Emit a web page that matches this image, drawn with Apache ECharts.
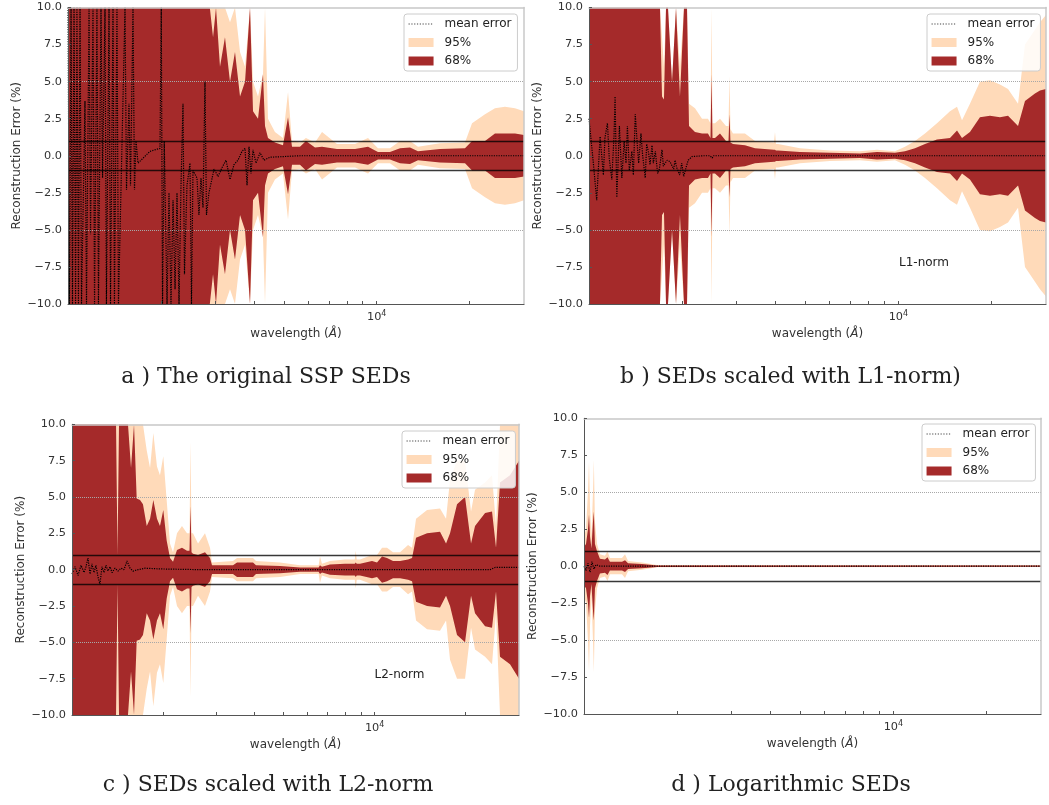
<!DOCTYPE html>
<html>
<head>
<meta charset="utf-8">
<script src="https://cdn.jsdelivr.net/npm/echarts@6/dist/echarts.min.js"></script>
<style>html,body{margin:0;padding:0;background:#fff}#c{width:1049px;height:805px}</style>
</head>
<body>
<div id="c"></div>
<script>
// ---------- data (wavelength in Angstrom, half-widths of the bands in %) ----------
const wlA = [1000,2880,2950,3016,3107,3225,3348,3475,3608,3745,3887,3975,4126,4282,4347,4445,4682,4970,5161,5317,5642,5900,6311,6650,7436,8506,9372,10095,11040,11898,12817,13607,16032,19320,20360,22430,24160,26030,28050,30000];
const a95 = [10,10,10,10,10,10,9,10,7,6,10,5,4,5.5,10,2.5,1.6,1.2,4.3,1.0,0.9,1.2,0.9,1.6,0.8,0.8,1.2,0.5,0.5,1.0,1.0,0.6,0.85,0.9,2.2,2.8,3.2,3.3,3.2,3.0];
const a68 = [10,10,8,10,6,8,5,7,4,5,10,3,2.5,5.5,2,1.2,0.9,0.7,2.6,0.6,0.6,1.0,0.55,0.6,0.45,0.45,0.6,0.25,0.25,0.5,0.55,0.3,0.45,0.5,1.0,1.0,1.5,1.5,1.5,1.4];
const mwlA = [1000,1011,1023,1034,1046,1058,1069,1081,1094,1106,1135,1148,1170,1183,1205,1219,1241,1255,1279,1294,1318,1332,1358,1373,1399,1414,1441,1457,1530,1547,1576,1594,1624,1642,1661,1686,1843,1986,2005,2024,2050,2093,2124,2156,2189,2222,2255,2289,2323,2358,2384,2429,2484,2512,2540,2617,2656,2696,2737,2778,2809,2862,2972,3063,3155,3250,3348,3449,3553,3661,3745,3801,3858,3915,3974,4064,4188,4314,4511,5642,30000];
const meanA = [10,-10,10,-10,10,-10,10,-10,10,-10,3.7,-10,10,-5.3,10,-10,10,-10,10,-1.5,10,-10,10,-10,10,-10,10,-10,10,-2.3,3.5,-2,10,-2.3,1,-0.5,0.3,0.5,10,-10,1,-10,-2.5,-10,-3,-9,-2.5,-10,-2,3.5,-8,-2,-0.5,-10,-1,-1.5,-4,-1.5,-3.5,5,-4,-2.5,-0.9,-1.4,-0.8,-0.3,-1.6,-0.6,-0.3,0.3,0.5,-2.0,0.6,-1.2,0.4,-0.5,0.2,-0.3,-0.1,0,0];

const wlB = [1000,1696,1722,1747,1774,1800,1855,1911,1968,2028,2074,2105,2201,2319,2424,2470,2489,2507,2554,2651,2772,2824,2845,2866,2920,3193,3440,3962,3992,4021,4082,4808,6010,7515,8525,9750,10503,11316,12190,13328,14682,15470,16057,17035,18350,19775,21300,22612,24362,25657,27636,28686,30000];
const b95 = [10,10,8,6,10,10,5,10,6,10,10,3.5,3.2,2.5,2.5,2.2,10,2.2,2.2,2.5,2.0,2.0,5.4,1.8,1.5,1.5,1.0,0.9,1.6,0.8,0.8,0.5,0.35,0.3,0.4,0.3,0.6,1.0,1.5,2.2,3.0,3.3,2.4,3.5,5.0,5.1,4.8,4.5,3.5,7.5,8.5,9.0,9.5];
const b68 = [10,10,4,3.8,10,10,5,10,4,10,10,2.0,1.6,1.5,1.5,1.2,5.5,1.2,1.2,1.5,1.0,1.0,2.8,0.9,0.8,0.7,0.5,0.4,0.4,0.35,0.35,0.25,0.2,0.15,0.25,0.2,0.3,0.5,0.8,1.1,1.2,1.7,1.2,1.6,2.6,2.7,2.6,2.7,2.0,3.7,4.2,4.4,4.5];
const mwlB = [1000,1033,1059,1086,1113,1126,1147,1163,1185,1205,1214,1230,1254,1277,1299,1317,1331,1350,1376,1391,1411,1435,1447,1472,1491,1520,1536,1558,1575,1598,1614,1638,1667,1688,1722,1739,1788,1827,1878,1897,1921,1964,1994,2024,2059,2092,2155,2350,2461,2502,2522,30000];
const meanB = [2.5,-0.5,-3.0,1.3,-1.3,1.2,2.2,-0.2,-1.6,1.4,4.0,-2.8,2.0,-1.5,1.0,-0.5,2.0,-1.0,0.3,-1.3,2.8,0.5,-0.5,1.5,0,-1.5,0.8,0.2,-0.6,0.7,-0.5,0.3,-1.2,-0.9,0.4,-0.7,-0.3,-0.4,-0.9,-0.3,-0.8,-1.3,-0.5,-1.4,-0.8,-0.3,-0.05,0,0,-0.15,0,0];

const wlC = [1000,1398,1414,1430,1531,1567,1603,1636,1678,1716,1766,1811,1857,1909,1953,2003,2055,2108,2157,2223,2309,2399,2445,2464,2483,2511,2609,2751,2858,2902,3404,3510,3964,4055,4869,5669,6531,6599,6700,7121,7984,8597,8661,8729,8949,9804,10184,10580,10990,11502,12133,12897,13294,13705,14904,16448,17219,17751,18721,19898,20827,21469,23175,24434,25186,25964,28019,30000];
const c95 = [10,10,10,10,10,10,10,10,10,10,8.2,7,9.4,7.1,6.5,7.8,4.8,1.8,1.2,2.5,3.0,2.5,2.5,8.8,2.5,2.5,1.8,2.5,1.5,0.5,0.6,0.8,0.8,0.6,0.5,0.3,0.3,0.9,0.4,0.6,0.7,0.7,1.3,0.7,0.7,1.0,1.0,1.5,1.5,1.2,1.2,1.7,1.5,3.5,4.1,4.2,3.5,6.2,7.5,7.5,4.0,5.5,6.0,6.5,3.0,10,10,10];
const c68 = [10,10,1,10,10,7,10,4.9,4.8,4.5,3.0,3.5,4.8,3.5,3,4.1,2.0,0.8,0.55,1.35,1.5,1.3,1.3,4.4,1.2,1.1,1.0,1.2,0.8,0.3,0.3,0.5,0.5,0.3,0.25,0.15,0.15,0.3,0.2,0.35,0.4,0.4,0.5,0.4,0.4,0.6,0.5,0.9,0.8,0.6,0.6,0.7,0.8,2.2,2.5,2.6,1.8,2.5,4.5,5.0,1.8,3.0,3.9,4.0,1.5,6.0,6.5,7.5];
const mwlC = [1000,1023,1047,1071,1096,1112,1129,1147,1164,1182,1200,1219,1237,1256,1276,1295,1315,1336,1356,1387,1419,1452,1485,1520,1555,1591,1653,1743,1953,2649,24065,24998,30000];
const meanC = [-0.3,0.2,-0.4,0.3,-0.2,0.2,0.8,-0.3,0.4,-0.2,0.3,-0.5,-1.0,0.2,-0.2,0.3,-0.1,0.2,-0.2,0.1,-0.1,0.1,0.0,0.6,0.1,-0.1,0.0,0.1,0.05,0,0,0.15,0.15];

const wlD = [1000,1015,1030,1038,1046,1057,1069,1076,1085,1102,1126,1169,1191,1213,1327,1357,1388,1540,1722,30000];
const d95 = [2.0,2.5,5,7.1,4,2,5,7.2,3,1.5,0.8,0.7,1.0,0.55,0.55,0.8,0.35,0.25,0.08,0.06];
const d68 = [1.3,1.5,2.5,3.5,2,1.2,3,3.7,1.5,1.0,0.5,0.45,0.6,0.3,0.3,0.4,0.2,0.15,0.05,0.04];
const mwlD = [1000,1015,1030,1046,1061,1077,1093,1126,30000];
const meanD = [0,-0.3,0.2,-0.4,0.3,-0.2,0.1,0,0];

const refSolid = [1, -1];
const refDotted = [5, -5];
const xTickValues = [2000,3000,4000,5000,6000,7000,8000,9000,10000,20000];
const xLabelValues = [10000];
const captions = ['a ) The original SSP SEDs', 'b ) SEDs scaled with L1-norm)', 'c ) SEDs scaled with L2-norm', 'd ) Logarithmic SEDs'];
const notes = ['', 'L1-norm', 'L2-norm', ''];
const legendNames = ['mean error', '95%', '68%'];

// ---------- layout & style ----------
const FONT = 'DejaVu Sans';
const C95 = '#ffdab9', C68 = '#a52a2a';
const grids = [
  {left: 68, top: 7.5, width: 456, height: 296.5},
  {left: 589, top: 7.5, width: 457, height: 296.5},
  {left: 72, top: 424.3, width: 447, height: 290.7},
  {left: 584, top: 418.3, width: 457, height: 295.7}
];
const legendPos = [[404, 14], [927, 14], [402, 431], [922, 424]];
const captionPos = [[266, 377], [790.5, 377], [268, 785], [791, 785]];
const notePos = [null, [924, 263], [399.5, 675], null];
const panels = [
  {wl: wlA, h95: a95, h68: a68, mwl: mwlA, mean: meanA},
  {wl: wlB, h95: b95, h68: b68, mwl: mwlB, mean: meanB},
  {wl: wlC, h95: c95, h68: c68, mwl: mwlC, mean: meanC},
  {wl: wlD, h95: d95, h68: d68, mwl: mwlD, mean: meanD}
];

function bandSeries(name, ax, wl, hw, color, z) {
  return {
    type: 'custom', name: name, xAxisIndex: ax, yAxisIndex: ax, z: z, clip: true, silent: true,
    itemStyle: {color: color},
    encode: {x: 0, y: 1},
    data: wl.map((w, i) => [w, hw[i]]),
    renderItem: function (params, api) {
      if (params.dataIndex !== 0) return null;
      const up = [], dn = [];
      for (let i = 0; i < wl.length; i++) {
        up.push(api.coord([wl[i], hw[i]]));
        dn.push(api.coord([wl[i], -hw[i]]));
      }
      return {type: 'polygon', shape: {points: up.concat(dn.reverse())}, style: {fill: color}};
    }
  };
}

const xAxes = [], yAxes = [], series = [], legends = [], graphics = [];
panels.forEach((p, i) => {
  const ax = 2 * i;
  xAxes.push({
    type: 'log', logBase: 10, gridIndex: i, min: 1000, max: 30000, z: 10, position: 'bottom',
    axisLine: {show: true, onZero: false, lineStyle: {color: '#555', width: 1}},
    axisTick: {show: true, inside: true, length: 3, customValues: xTickValues, lineStyle: {color: '#555'}},
    minorTick: {show: false},
    splitLine: {show: false},
    axisLabel: {
      customValues: xLabelValues, margin: 6, color: '#333',
      formatter: v => (Math.round(v) === 10000 ? '{b|10}{s|4}' : ''),
      rich: {b: {fontSize: 11.3, fontFamily: FONT, color: '#333'},
             s: {fontSize: 8, fontFamily: FONT, color: '#333', padding: [0, 0, 6, 0]}}
    },
    name: 'wavelength ({i|Å})', nameLocation: 'middle', nameGap: 24,
    nameTextStyle: {fontSize: 12, fontFamily: FONT, color: '#333',
      rich: {i: {fontSize: 12, fontFamily: FONT, fontStyle: 'italic', color: '#333'}}}
  });
  xAxes.push({
    type: 'log', logBase: 10, gridIndex: i, min: 1000, max: 30000, z: 10, position: 'top',
    axisLine: {show: true, onZero: false, lineStyle: {color: '#c8c8c8', width: 1.5}},
    axisTick: {show: false}, axisLabel: {show: false}, splitLine: {show: false}
  });
  yAxes.push({
    type: 'value', gridIndex: i, min: -10, max: 10, interval: 2.5, z: 10, position: 'left',
    axisLine: {show: true, onZero: false, lineStyle: {color: '#555', width: 1}},
    axisTick: {show: true, inside: true, length: 3, lineStyle: {color: '#555'}},
    splitLine: {show: false},
    axisLabel: {margin: 6, color: '#333', fontSize: 11.3, fontFamily: FONT,
      formatter: v => (v < 0 ? '\u2212' : '') + Math.abs(v).toFixed(1)},
    name: 'Reconstruction Error (%)', nameLocation: 'middle', nameGap: 45,
    nameTextStyle: {fontSize: 12, fontFamily: FONT, color: '#333'}
  });
  yAxes.push({
    type: 'value', gridIndex: i, min: -10, max: 10, interval: 2.5, z: 10, position: 'right',
    axisLine: {show: true, onZero: false, lineStyle: {color: '#c8c8c8', width: 1.5}},
    axisTick: {show: false}, axisLabel: {show: false}, splitLine: {show: false}
  });

  series.push({
    type: 'line', name: 'ref5-' + i, xAxisIndex: ax, yAxisIndex: ax, z: 1, silent: true,
    data: [[1000, 0]], symbol: 'none', lineStyle: {opacity: 0},
    markLine: {silent: true, symbol: ['none', 'none'], label: {show: false}, animation: false,
      lineStyle: {type: 'dotted', color: '#a8a8a8', width: 1},
      data: refDotted.map(v => ({yAxis: v}))}
  });
  series.push(bandSeries('95%', ax, p.wl, p.h95, C95, 2));
  series.push(bandSeries('68%', ax, p.wl, p.h68, C68, 3));
  series.push({
    type: 'line', name: 'ref1-' + i, xAxisIndex: ax, yAxisIndex: ax, z: 4, silent: true,
    data: [[1000, 0]], symbol: 'none', lineStyle: {opacity: 0},
    markLine: {silent: true, symbol: ['none', 'none'], label: {show: false}, animation: false,
      lineStyle: {type: 'solid', color: 'rgba(0,0,0,0.78)', width: 1.4},
      data: refSolid.map(v => ({yAxis: v}))}
  });
  series.push({
    type: 'line', name: 'mean error', xAxisIndex: ax, yAxisIndex: ax, z: 5, silent: true,
    symbol: 'none', showSymbol: false, clip: true,
    lineStyle: {type: 'dotted', color: '#000', width: 1.2},
    itemStyle: {color: '#000'},
    data: p.mwl.map((w, k) => [w, p.mean[k]])
  });

  legends.push({
    left: legendPos[i][0], top: legendPos[i][1], orient: 'vertical', selectedMode: false,
    data: [
      {name: legendNames[0], itemStyle: {opacity: 0}, lineStyle: {color: '#444', type: [1.2, 1.6], width: 1.1}},
      {name: legendNames[1], icon: 'rect'},
      {name: legendNames[2], icon: 'rect'}
    ],
    itemWidth: 25, itemHeight: 9, itemGap: 4.5, padding: [3, 6, 3, 4],
    backgroundColor: 'rgba(255,255,255,0.85)', borderColor: '#cccccc', borderWidth: 1, borderRadius: 3,
    textStyle: {fontSize: 12, fontFamily: FONT, color: '#222', lineHeight: 14, padding: [0, 0, 0, 6]}
  });

  graphics.push({
    type: 'text', x: captionPos[i][0], y: captionPos[i][1], silent: true,
    style: {text: captions[i], font: '22px "DejaVu Serif"', fill: '#222', textAlign: 'center', textVerticalAlign: 'middle'}
  });
  if (notePos[i]) {
    graphics.push({
      type: 'text', x: notePos[i][0], y: notePos[i][1], silent: true, z: 20,
      style: {text: notes[i], font: '12px "DejaVu Sans"', fill: '#222', textAlign: 'center', textVerticalAlign: 'middle'}
    });
  }
});

const chart = echarts.init(document.getElementById('c'), null, {renderer: 'canvas'});
chart.setOption({
  animation: false,
  backgroundColor: '#fff',
  grid: grids.map(g => Object.assign({containLabel: false}, g)),
  xAxis: xAxes,
  yAxis: yAxes,
  legend: legends,
  series: series,
  graphic: graphics
});
</script>
</body>
</html>
